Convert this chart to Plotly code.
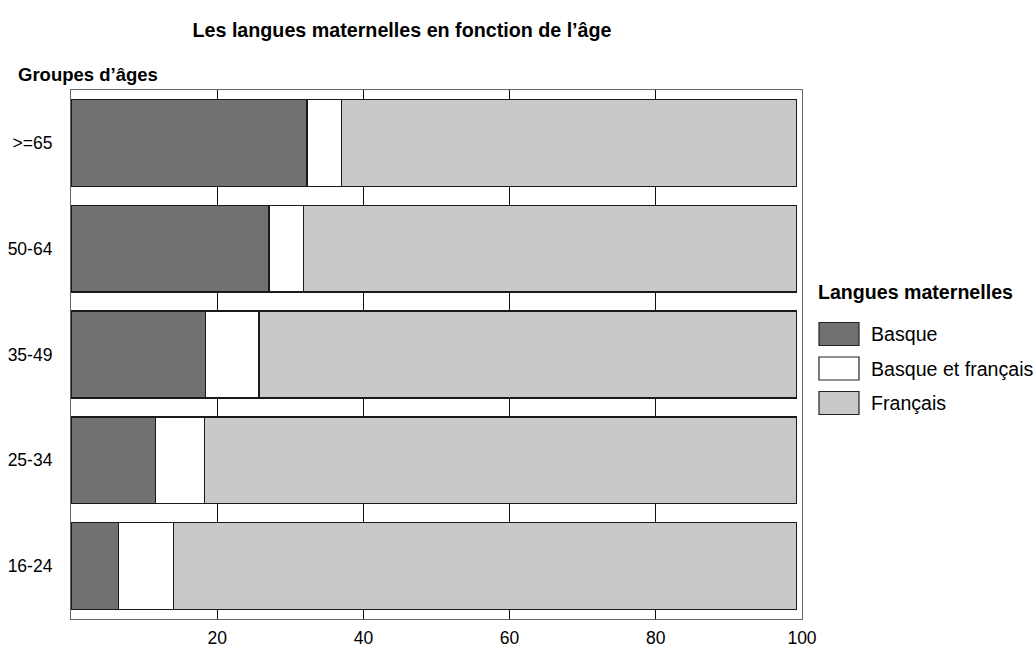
import plotly.graph_objects as go

# Data
age_groups = [">=65", "50-64", "35-49", "25-34", "16-24"]
basque = [32.3, 27.1, 18.4, 11.6, 6.5]
basque_francais = [4.7, 4.7, 7.3, 6.7, 7.5]
francais = [62.2, 67.4, 73.5, 80.9, 85.2]
series_names = ["Basque", "Basque et français", "Français"]
series_colors = ["#707173", "#ffffff", "#c8c9cb"]
x_ticks = [20, 40, 60, 80, 100]

W, H = 1036, 648
L, R, T, B = 71, 802, 90, 619
FONT = "Liberation Sans, Arial, sans-serif"

fig = go.Figure()
for name, vals, col in zip(series_names, [basque, basque_francais, francais], series_colors):
    fig.add_trace(go.Bar(
        y=age_groups, x=vals, name=name, orientation="h",
        marker=dict(color=col, line=dict(color="#1a1a1a", width=1.3)),
        showlegend=False,
    ))

def px_x(px):
    return (px - L) / (R - L)

def px_y(py):
    return 1 - (py - T) / (B - T)

shapes = []
annotations = []
# Custom legend
annotations.append(dict(x=px_x(816), y=px_y(292), xref="paper", yref="paper",
                        text="<b>Langues maternelles</b>", showarrow=False,
                        xanchor="left", yanchor="middle",
                        font=dict(size=19.6, color="#000", family=FONT)))
for i, (name, col) in enumerate(zip(series_names, series_colors)):
    cy = 334 + i * 34.5
    shapes.append(dict(type="rect", xref="paper", yref="paper",
                       x0=px_x(819), x1=px_x(859), y0=px_y(cy - 11.5), y1=px_y(cy + 11.5),
                       fillcolor=col, line=dict(color="#222", width=1.2)))
    annotations.append(dict(x=px_x(869), y=px_y(cy), xref="paper", yref="paper",
                            text=name, showarrow=False, xanchor="left", yanchor="middle",
                            font=dict(size=19.6, color="#000", family=FONT)))

annotations.append(dict(x=px_x(16), y=px_y(75), xref="paper", yref="paper",
                        text="<b>Groupes d’âges</b>", showarrow=False,
                        xanchor="left", yanchor="middle",
                        font=dict(size=18.5, color="#000", family=FONT)))

fig.update_layout(
    width=W, height=H,
    margin=dict(l=L, r=W - R, t=T, b=H - B, pad=0, autoexpand=False),
    barmode="stack", bargap=0.18,
    plot_bgcolor="white", paper_bgcolor="white",
    title=dict(text="<b>Les langues maternelles en fonction de l’âge</b>",
               x=402 / W, xref="container", xanchor="center",
               y=1 - 30 / H, yref="container", yanchor="middle",
               font=dict(size=19.7, color="#000", family=FONT)),
    xaxis=dict(range=[0, 100], tickvals=x_ticks, ticktext=[str(v) for v in x_ticks],
               showgrid=True, gridcolor="#111", gridwidth=1,
               showline=True, mirror=True, linecolor="#666", linewidth=1.2,
               zeroline=False, ticks="", ticklabelstandoff=3, automargin=False,
               tickfont=dict(size=17.5, color="#000", family=FONT)),
    yaxis=dict(categoryorder="array", categoryarray=age_groups, autorange="reversed",
               showgrid=False, showline=True, mirror=True, linecolor="#666", linewidth=1.2,
               ticks="", ticklabelstandoff=14, automargin=False,
               tickfont=dict(size=17.5, color="#000", family=FONT)),
    shapes=shapes, annotations=annotations,
)

fig.write_html("out.html", config={"displayModeBar": False},
               post_script="document.body.style.margin='0';document.body.style.overflow='hidden';")
